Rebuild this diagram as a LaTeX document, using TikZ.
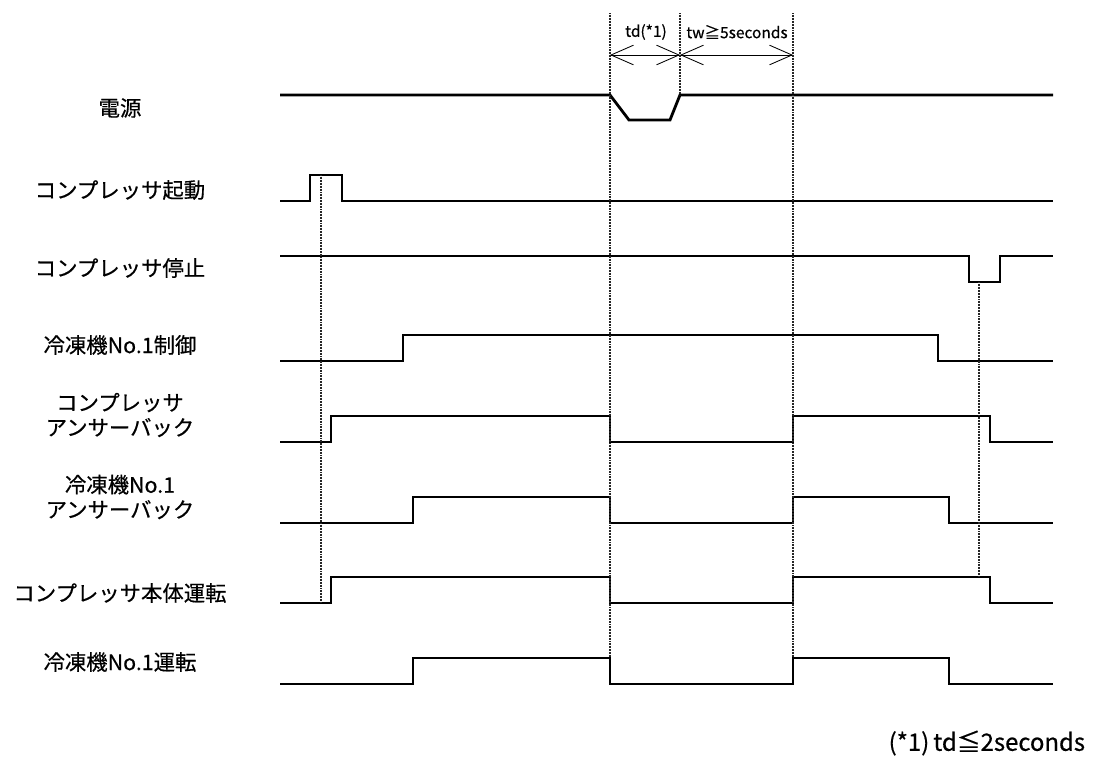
\documentclass[tikz,border=0pt]{standalone}
\usepackage{fontspec}
\setmainfont{Noto Sans CJK JP}[FakeBold=0.5]
\usetikzlibrary{arrows.meta}

\tikzset{
  sig/.style={line width=2pt, line join=miter},
  guide/.style={line width=1.3pt, dash pattern=on 0.6pt off 0.5pt, black!85},
  dim/.style={line width=0.6pt, {Straight Barb[length=16pt,width=14pt]}-{Straight Barb[length=16pt,width=14pt]}},
  lbl/.style={font=\fontsize{15.2}{17.7}\selectfont, align=center},
  small/.style={font=\fontsize{11}{13}\selectfont}
}

\begin{document}
\begin{tikzpicture}[x=0.025cm, y=-0.025cm]
    \useasboundingbox (0,0) rectangle (1094,758);

    \node[lbl] (pwr) at (120,108) {電源};
    \node[lbl] (start) at (120,190) {コンプレッサ起動};
    \node[lbl] (stop) at (120,268) {コンプレッサ停止};
    \node[lbl] (ctrl) at (120,345) {冷凍機No.1制御};
    \node[lbl] (cab) at (120,415) {コンプレッサ\\アンサーバック};
    \node[lbl] (rab) at (120,497) {冷凍機No.1\\アンサーバック};
    \node[lbl] (crun) at (120,593) {コンプレッサ本体運転};
    \node[lbl] (rrun) at (120,662) {冷凍機No.1運転};

    \draw[sig] (280,95) -- (610,95) -- (629,120) -- (670,120) -- (680,95) -- (1053,95);
    \draw[sig] (280,201) -- (310,201) -- (310,175) -- (342,175) -- (342,201) -- (1053,201);
    \draw[sig] (280,256) -- (969,256) -- (969,282) -- (1000,282) -- (1000,256) -- (1053,256);
    \draw[sig] (280,361) -- (403,361) -- (403,335) -- (938,335) -- (938,361) -- (1053,361);
    \draw[sig] (280,442) -- (331,442) -- (331,416) -- (610,416) -- (610,442) -- (793,442) -- (793,416) -- (990,416) -- (990,442) -- (1053,442);
    \draw[sig] (280,523) -- (413,523) -- (413,497) -- (610,497) -- (610,523) -- (793,523) -- (793,497) -- (949,497) -- (949,523) -- (1053,523);
    \draw[sig] (280,603) -- (331,603) -- (331,577) -- (610,577) -- (610,603) -- (793,603) -- (793,577) -- (990,577) -- (990,603) -- (1053,603);
    \draw[sig] (280,684) -- (413,684) -- (413,658) -- (610,658) -- (610,684) -- (793,684) -- (793,658) -- (949,658) -- (949,684) -- (1053,684);

    % guide lines
    \coordinate (g1t) at (610,13);
    \coordinate (g1b) at (610,657);
    \coordinate (g2t) at (680,13);
    \coordinate (g2b) at (680,95);
    \coordinate (g3t) at (793,13);
    \coordinate (g3b) at (793,657);
    \coordinate (g4t) at (321,175);
    \coordinate (g4b) at (321,602);
    \coordinate (g5t) at (979,282);
    \coordinate (g5b) at (979,576);
    \draw[guide] (g1t) -- (g1b);
    \draw[guide] (g2t) -- (g2b);
    \draw[guide] (g3t) -- (g3b);
    \draw[guide] (g4t) -- (g4b);
    \draw[guide] (g5t) -- (g5b);

    \coordinate (d1) at (610,55);
    \coordinate (d2) at (680,55);
    \coordinate (d3) at (793,55);
    \draw[dim] (d1) -- (d2);
    \draw[dim] (d2) -- (d3);
    \node[small] (td) at (646,32) {td(*1)};
    \node[small] (tw) at (737,32) {tw≧5seconds};

    \node[font=\fontsize{17}{20}\selectfont, anchor=east] (note) at (1090,743) {(*1)\,td≦2seconds};
\end{tikzpicture}
\end{document}
